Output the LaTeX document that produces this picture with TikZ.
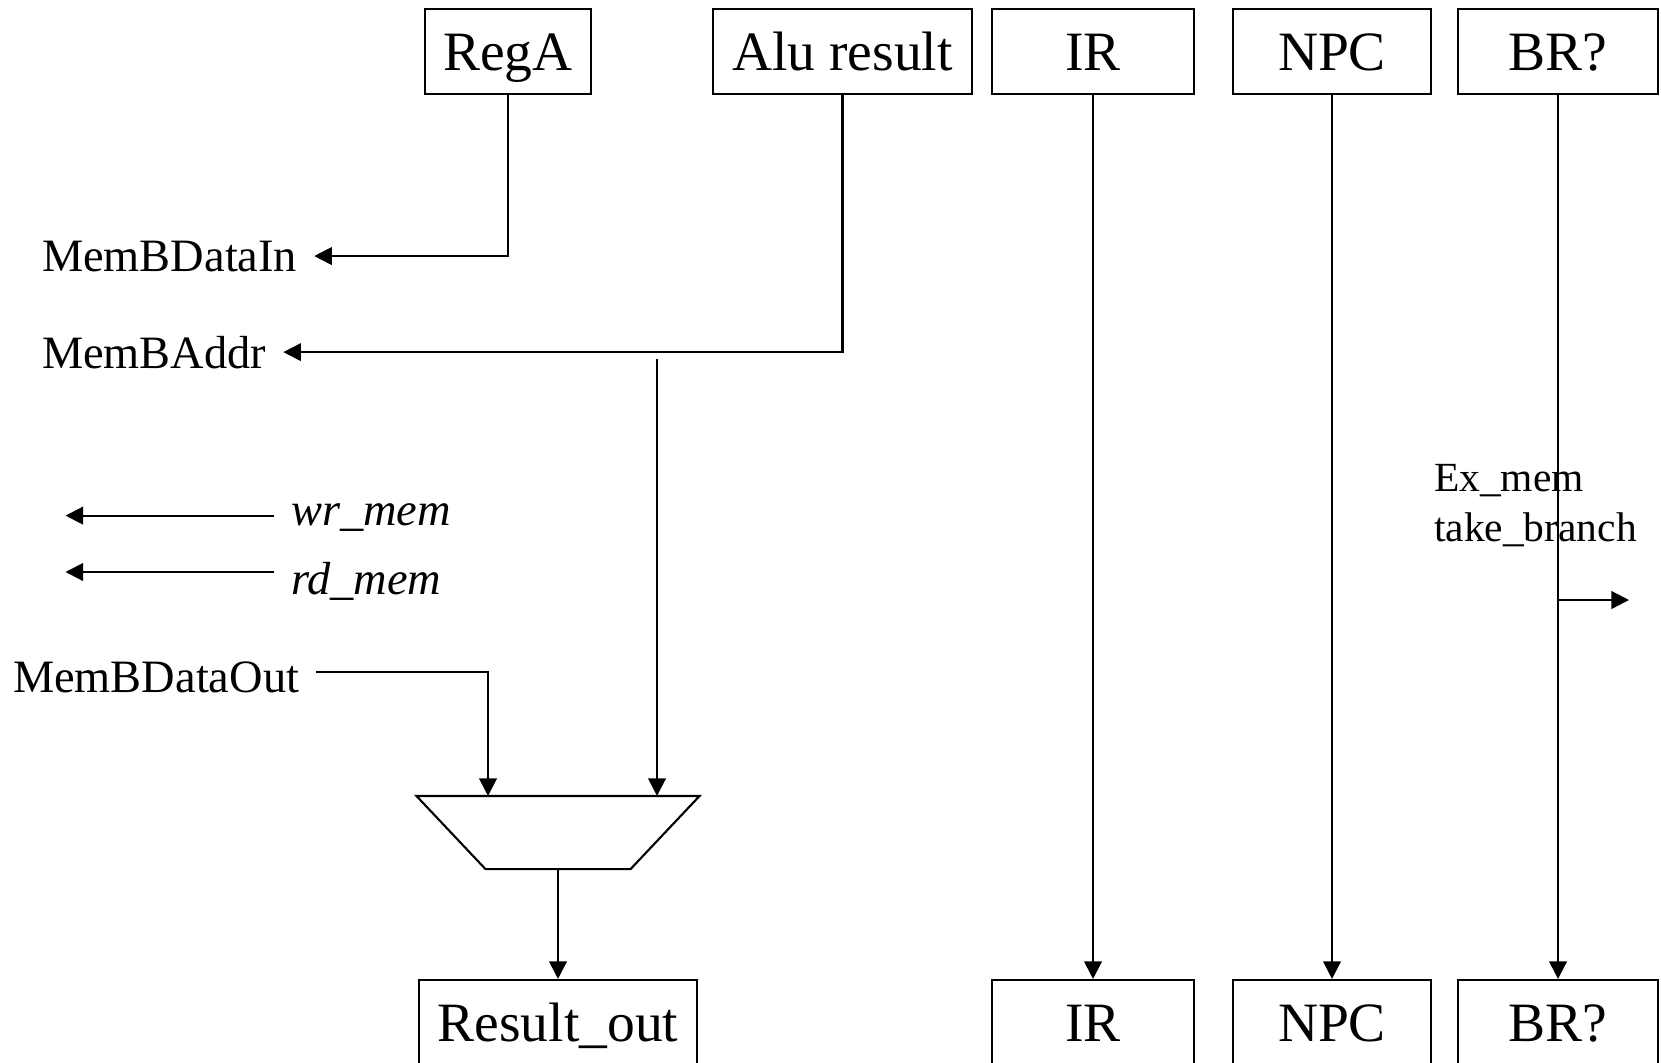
\documentclass[tikz,border=0pt]{standalone}
\usepackage{fontspec}
\setmainfont{Liberation Serif}
\usepackage{tikz}
\usetikzlibrary{shapes,arrows.meta,positioning}

\begin{document}
\begin{tikzpicture}[
    line width=0.6pt,
    >={Triangle[length=5pt,width=5pt]},
    regbox/.style={rectangle, draw, minimum height=0.85cm, inner sep=0pt, text height=0.37cm, text depth=0pt, font=\fontsize{15.8}{19}\selectfont},
    sig/.style={inner xsep=0.16cm, inner ysep=0pt, font=\fontsize{13.2}{16}\selectfont},
    ctl/.style={sig, font=\fontsize{13.2}{16}\selectfont\itshape},
    node distance=9.71cm]
    \useasboundingbox (0,0) rectangle (16.61,-10.62);

    \node[regbox, minimum width=1.66cm] (rega) at (5.08,-0.515) {RegA};
    \node[regbox, minimum width=2.59cm] (alu) at (8.425,-0.515) {Alu result};
    \node[regbox, minimum width=2.02cm] (irtop) at (10.93,-0.515) {IR};
    \node[regbox, minimum width=1.98cm] (npctop) at (13.32,-0.515) {NPC};
    \node[regbox, minimum width=2.00cm] (brtop) at (15.58,-0.515) {BR?};

    \node[regbox, minimum width=2.02cm, below of=irtop] (irbot) {IR};
    \node[regbox, minimum width=1.98cm, below of=npctop] (npcbot) {NPC};
    \node[regbox, minimum width=2.00cm, below of=brtop] (brbot) {BR?};
    \node[regbox, minimum width=2.78cm] (resout) at (5.58,-10.225) {Result\_out};

    \node[rectangle, minimum width=2.81cm, minimum height=0.71cm, inner sep=0pt] (mux) at (5.58,-8.325) {};
    \draw (mux.north west) -- (mux.north east) -- ([xshift=-0.69cm]mux.south east) -- ([xshift=0.69cm]mux.south west) -- cycle;

    \node[sig, anchor=base west] (datain) at (0.25,-2.71) {MemBDataIn};
    \node[sig, anchor=base west] (addr) at (0.25,-3.68) {MemBAddr};
    \node[ctl, anchor=base west] (wrmem) at (2.74,-5.25) {wr\_mem};
    \node[ctl, anchor=base west] (rdmem) at (2.74,-5.945) {rd\_mem};
    \node[sig, anchor=base west] (dout) at (-0.04,-6.92) {MemBDataOut};
    \node[font=\fontsize{11.8}{14.2}\selectfont, align=left, anchor=west, inner sep=0pt] (exmem) at (14.33,-5.06) {Ex\_mem\\take\_branch};

    \coordinate (tap) at (6.57,-3.59);
    \coordinate (wrout) at (0.655,-5.156);
    \coordinate (rdout) at (0.655,-5.72);
    \coordinate (brout) at (16.29,-6.00);

    \draw[->] (rega) |- (datain);
    \draw[->] (alu) |- (addr);
    \draw[->] (tap) -- (tap |- mux.north);
    \draw[->] ([yshift=0.05cm]dout.east) -| ([xshift=-0.70cm]mux.north);
    \draw[->] (wrmem.west |- wrout) -- (wrout);
    \draw[->] (rdmem.west |- rdout) -- (rdout);
    \draw[->] (mux) -- (resout);
    \draw[->] (irtop) -- (irbot);
    \draw[->] (npctop) -- (npcbot);
    \draw[->] (brtop) -- (brbot);
    \draw[->] (brtop.south |- brout) -- (brout);
\end{tikzpicture}
\end{document}
